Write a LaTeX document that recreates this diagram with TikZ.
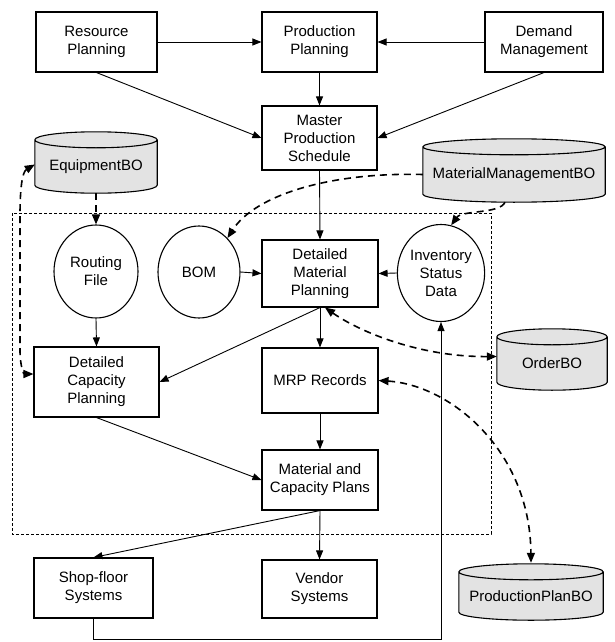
\documentclass[tikz,border=0pt]{standalone}
\usepackage{fontspec}
\setmainfont{Liberation Sans}
\usetikzlibrary{arrows.meta,shapes.geometric,calc}
\pgfdeclarelayer{bg}
\pgfsetlayers{bg,main}
\newcommand\lbl{\fontsize{15}{18}\selectfont}
% cylinder drawn around a node whose top edge is the centre of the top ellipse
\newcommand\cylbody[1]{%
  \path[cylfill] let \p1=(#1.north west), \p2=(#1.south east), \n1={(\x2-\x1)/2} in
    (\x1,\y1) -- (\x1,\y2+8pt) arc[start angle=180,end angle=360,x radius=\n1,y radius=8pt]
    -- (\x2,\y1) arc[start angle=0,end angle=180,x radius=\n1,y radius=8pt] -- cycle
    (\x1,\y1) arc[start angle=180,end angle=360,x radius=\n1,y radius=8pt];}
\begin{document}
\begin{tikzpicture}[x=1pt,y=-1pt,
  box/.style={draw,line width=1.1pt,rectangle,inner sep=0pt,align=center,font=\lbl},
  oval/.style={draw,ellipse,line width=1.1pt,inner sep=0pt,align=center,font=\lbl},
  cylnode/.style={rectangle,inner sep=0pt,align=center,font=\lbl},
  cylfill/.style={draw,line width=1.1pt,fill=gray!22},
  conn/.style={line width=0.9pt,-{Triangle[length=9pt,width=7pt]}},
  dconn/.style={line width=1.6pt,dash pattern=on 7pt off 5pt,-{Triangle[length=10pt,width=8pt]}},
  dboth/.style={line width=1.6pt,dash pattern=on 7pt off 5pt,{Triangle[length=10pt,width=8pt]}-{Triangle[length=10pt,width=8pt]}},
  frame/.style={line width=1pt,dash pattern=on 3pt off 2pt}]
\begin{pgfonlayer}{bg}
\fill[white] (0,0) rectangle (614,642);
\end{pgfonlayer}
\useasboundingbox (0,0) rectangle (614,642);

% top row
\node[box,minimum width=121pt,minimum height=60pt] (res) at (96.5,42) {Resource\\Planning};
\node[box,minimum width=115pt,minimum height=60pt] (prod) at (319.5,42) {Production\\Planning};
\node[box,minimum width=118pt,minimum height=60pt] (dem) at (544,42) {Demand\\Management};
\node[box,minimum width=115pt,minimum height=64pt] (mps) at (319.5,138) {Master\\Production\\Schedule};

% cylinders (business objects)
\node[cylnode,minimum width=122pt,minimum height=53pt] (eq) at (96,166.5) {EquipmentBO};
\node[cylnode,minimum width=182pt,minimum height=55pt] (mm) at (514,174.5) {MaterialManagementBO};
\node[cylnode,minimum width=110pt,minimum height=53pt] (ord) at (552,363.5) {OrderBO};
\node[cylnode,minimum width=144pt,minimum height=48pt] (pp) at (531,596) {ProductionPlanBO};
\begin{pgfonlayer}{bg}
\cylbody{eq}\cylbody{mm}\cylbody{ord}\cylbody{pp}
\end{pgfonlayer}

% dashed frame
\draw[frame] (12,213) rectangle (491,534);

% inside frame
\node[oval,minimum width=84pt,minimum height=93pt] (rout) at (96,271.5) {Routing\\File};
\node[oval,minimum width=82pt,minimum height=92pt] (bom) at (199,272) {BOM};
\node[box,minimum width=116pt,minimum height=67pt] (dmp) at (320,273.5) {Detailed\\Material\\Planning};
\node[oval,minimum width=84pt,minimum height=97pt] (inv) at (441,273) {Inventory\\Status\\Data};
\node[box,minimum width=125pt,minimum height=70pt] (dcp) at (96.5,382) {Detailed\\Capacity\\Planning};
\node[box,minimum width=116pt,minimum height=65pt] (mrp) at (320,380.5) {MRP Records};
\node[box,minimum width=116pt,minimum height=60pt] (mcp) at (320,480) {Material and\\Capacity Plans};

% bottom row
\node[box,minimum width=119pt,minimum height=60pt] (shop) at (93.5,588) {Shop-floor\\Systems};
\node[box,minimum width=115pt,minimum height=58pt] (vend) at (319.5,589) {Vendor\\Systems};

% solid connectors
\draw[conn] (res.east) -- (prod.west);
\draw[conn] (dem.west) -- (prod.east);
\draw[conn] (prod.south) -- (mps.north);
\draw[conn] (res.south) -- (mps.west);
\draw[conn] (dem.south) -- (mps.east);
\draw[conn] (mps.south) -- (dmp.north);
\draw[conn] (bom.east) -- (dmp.west);
\draw[conn] (inv.west) -- (dmp.east);
\draw[conn] (rout.south) -- (dcp.north);
\draw[conn] (dmp.south) -- (dcp.east);
\draw[conn] (dmp.south) -- (mrp.north);
\draw[conn] (mrp.south) -- (mcp.north);
\draw[conn] (dcp.south) -- (mcp.west);
\draw[conn] (mcp.south) -- (shop.north);
\draw[conn] (mcp.south) -- (vend.north);
\draw[conn] (shop.south) -- ++(0,21) -| (inv.south);

% dashed connectors
\draw[dconn] (eq.south) -- (rout.north);
\draw[dboth] ($(eq.west)+(0,-2)$) .. controls (22,172) and (20,190) .. (20,215)
  -- (20,350) .. controls (20,367) and (24,374) .. ($(dcp.west)+(0,-8)$);
\draw[dconn] (mm.west) .. controls (330,172) and (255,195) .. (bom.50);
\draw[dconn] ($(mm.south)+(-9,0)$) .. controls (500,214) and (462,210) .. (inv.78);
\draw[dboth] ($(dmp.south)+(5,0)$) .. controls (360,332) and (420,357) .. ($(ord.west)+(0,-7)$);
\draw[dboth] (mrp.east) .. controls (450,385) and (530,450) .. ($(pp.north)+(0,-9)$);
\end{tikzpicture}
\end{document}
